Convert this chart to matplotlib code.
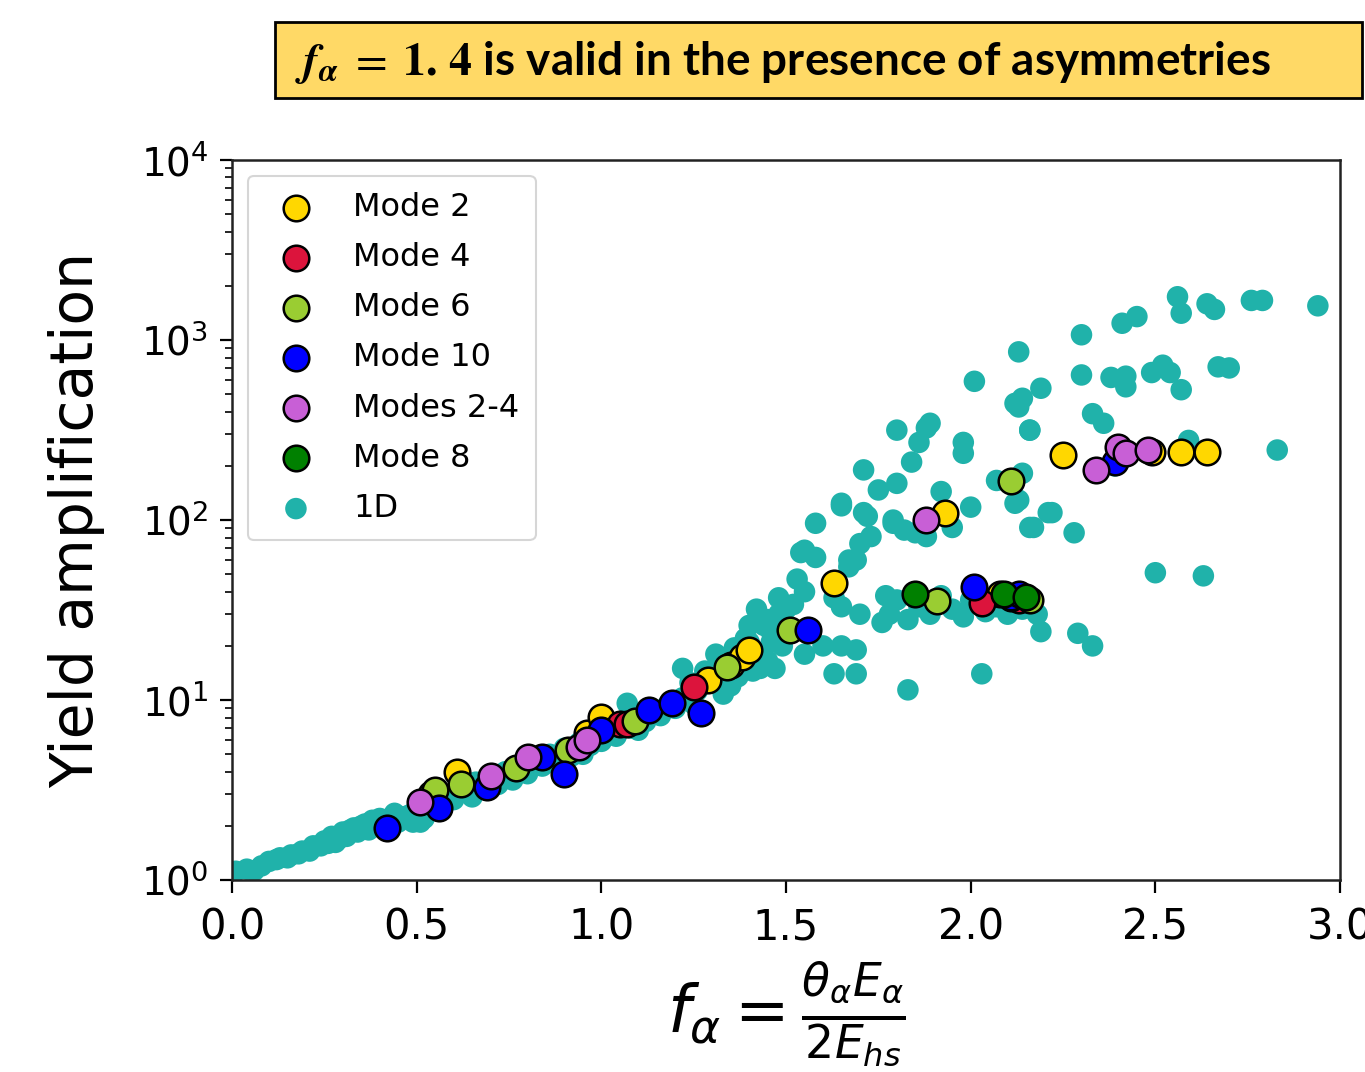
import numpy as np
import matplotlib
matplotlib.use("Agg")
import matplotlib.pyplot as plt
from matplotlib.patches import Rectangle

# ---- data ----
# 1D runs (teal cloud)
x_1d = [0.01, 0.04, 0.06, 0.10, 0.13, 0.16, 0.19, 0.22, 0.25, 0.27, 0.28, 0.30, 0.33, 0.34,
        0.36, 0.38, 0.44, 0.45, 0.48, 0.50, 0.51, 0.52, 0.53, 0.58, 0.62, 0.65, 0.66, 0.70,
        0.74, 0.78, 0.80, 0.82, 0.86, 0.90, 0.94, 0.95, 0.98, 1.02, 1.06, 1.07, 1.10, 1.10,
        1.14, 1.18, 1.22, 1.22, 1.25, 1.26, 1.30, 1.31, 1.34, 1.35, 1.38, 1.40, 1.42, 1.44,
        1.46, 1.48, 1.50, 1.52, 1.55,
        0.08, 0.12, 0.15, 0.18, 0.21, 0.24, 0.26, 0.29, 0.31, 0.32, 0.35, 0.37, 0.40, 0.42,
        0.46, 0.49, 0.56, 0.60, 0.68, 0.72, 0.76, 0.84, 0.88, 0.92, 0.97, 1.00, 1.04, 1.08,
        1.12, 1.16, 1.20, 1.24, 1.28, 1.32, 1.36, 1.39, 1.33, 1.37, 1.41, 1.45, 1.45, 1.50,
        1.46,
        1.40, 1.42, 1.48, 1.53, 1.55, 1.58, 1.58, 1.65, 1.71, 1.73, 1.69, 1.67, 1.79, 1.85,
        1.65, 1.70, 1.63, 1.49, 1.55, 1.60, 1.65, 1.69, 1.63, 1.69, 1.83, 1.43, 1.47,
        1.76, 1.77, 1.78, 1.80, 1.83, 1.86, 1.89, 1.92, 1.95, 1.98, 2.00, 2.04, 2.07, 2.10,
        2.14, 2.18, 2.19, 2.03, 2.29, 2.33,
        1.80, 1.89, 1.86, 1.84, 1.98, 1.98, 1.71, 1.75, 1.80, 1.65, 1.72, 1.70, 1.67, 1.54,
        1.79, 1.82, 1.88, 1.95, 2.00, 2.16, 2.13, 2.07, 2.13, 2.16, 2.21, 2.01, 1.88, 1.92,
        2.56, 2.57, 2.64, 2.66, 2.76, 2.79, 2.94, 2.41, 2.45, 2.30, 2.13, 2.30, 2.38, 2.42,
        2.42, 2.49, 2.52, 2.54, 2.57, 2.67, 2.70, 2.19, 2.12, 2.14, 2.33, 2.36, 2.16, 2.83,
        2.59, 2.14, 2.12, 2.22, 2.17, 2.28, 2.50, 2.63, 2.39]
y_1d = [1.12, 1.15, 1.13, 1.27, 1.33, 1.38, 1.45, 1.55, 1.65, 1.75, 1.62, 1.85, 1.95, 1.85,
        2.05, 2.15, 2.35, 2.1, 2.3, 2.5, 2.1, 2.2, 2.7, 3.0, 3.3, 2.9, 3.5, 3.7,
        4.0, 4.3, 3.9, 4.6, 5.0, 5.4, 5.8, 5.0, 6.3, 6.8, 7.3, 9.6, 7.9, 6.8,
        8.6, 9.4, 10.3, 15.0, 9.5, 11.3, 12.5, 18.0, 14.0, 12.0, 16.0, 21.0, 18.5, 26.0,
        21.0, 30.0, 24.0, 34.0, 40.0,
        1.2, 1.3, 1.33, 1.4, 1.45, 1.55, 1.6, 1.7, 1.75, 1.9, 2.0, 1.9, 2.2, 2.05,
        2.25, 2.1, 2.6, 2.8, 3.2, 3.4, 3.6, 4.3, 4.6, 4.9, 5.6, 5.9, 6.3, 7.0,
        7.6, 8.2, 9.0, 12.5, 14.5, 16.5, 19.5, 22.0, 10.8, 13.5, 14.5, 16.5, 28.0, 32.0,
        24.0,
        26, 32, 37, 47, 68, 62, 96, 120, 110, 81, 60, 55, 100, 85,
        33, 30, 37, 20, 18, 20, 20, 19, 14, 14, 11.4, 15, 15,
        27, 38, 30, 36, 28, 33, 30, 38, 32, 29, 36, 31, 33, 30,
        32, 30, 24, 14, 23.5, 20,
        316, 345, 270, 210, 270, 235, 190, 147, 160, 124, 105, 74, 60, 66,
        96, 88, 81, 91, 118, 316, 425, 166, 129, 91, 110, 590, 325, 144,
        1740, 1410, 1590, 1480, 1660, 1660, 1550, 1240, 1350, 1070, 860, 640, 620, 630,
        550, 660, 725, 660, 530, 710, 700, 540, 445, 475, 390, 345, 316, 245,
        277, 182, 124, 110, 91, 85, 51, 49, 200]

x_m2 = [0.54, 0.61, 0.96, 1.00, 1.29, 1.35, 1.38, 1.40, 1.63, 1.93, 2.08, 2.25, 2.49, 2.57, 2.64]
y_m2 = [2.9, 4.0, 6.6, 8.1, 12.9, 15.6, 17.3, 18.9, 44.6, 110, 39, 230, 240, 240, 240]

x_m4 = [1.05, 1.07, 1.25, 2.03, 2.13]
y_m4 = [7.4, 7.4, 11.8, 34.6, 36]

x_m6 = [0.54, 0.55, 0.62, 0.77, 0.91, 1.09, 1.34, 1.51, 1.91, 2.11, 2.16, 2.11]
y_m6 = [3.0, 3.16, 3.4, 4.2, 5.3, 7.7, 15.3, 24.5, 35.5, 37, 36, 165]

x_m10 = [0.42, 0.56, 0.69, 0.84, 0.90, 1.00, 1.13, 1.19, 1.27, 1.56, 2.01, 2.11, 2.13, 2.39]
y_m10 = [1.95, 2.5, 3.3, 4.8, 3.9, 6.8, 8.8, 9.6, 8.5, 24.5, 42.5, 37.6, 39, 210]

x_m24 = [0.51, 0.70, 0.80, 0.94, 0.96, 1.88, 2.34, 2.40, 2.42, 2.48]
y_m24 = [2.7, 3.8, 4.8, 5.5, 6.0, 100, 190, 255, 235, 245]

x_m8 = [1.85, 2.09, 2.15]
y_m8 = [39, 39, 37.5]

series = [
    ("Mode 2", x_m2, y_m2, "#FFD700"),
    ("Mode 4", x_m4, y_m4, "#DC143C"),
    ("Mode 6", x_m6, y_m6, "#9ACD32"),
    ("Mode 10", x_m10, y_m10, "#0000FF"),
    ("Modes 2-4", x_m24, y_m24, "#C85FD6"),
    ("Mode 8", x_m8, y_m8, "#008000"),
]

fig = plt.figure(figsize=(13.65, 10.72), dpi=100)
ax = fig.add_axes([0.170, 0.179, 0.8117, 0.6717])

h1d = ax.scatter(x_1d, y_1d, s=240, c="#20B2AA", edgecolors="none", label="1D", zorder=2)
handles = []
for name, xs, ys, col in series:
    h = ax.scatter(xs, ys, s=340, c=col, edgecolors="black", linewidths=1.8, label=name, zorder=3)
    handles.append(h)
handles.append(h1d)

ax.set_yscale("log")
ax.set_xlim(0, 3.0)
ax.set_ylim(1, 1e4)
ax.set_xticks([0.0, 0.5, 1.0, 1.5, 2.0, 2.5, 3.0])
ax.set_xticklabels(["0.0", "0.5", "1.0", "1.5", "2.0", "2.5", "3.0"])
ax.tick_params(which="major", length=9, width=1.6)
ax.tick_params(axis="x", labelsize=30, pad=10)
ax.tick_params(axis="y", labelsize=28, pad=8)
ax.tick_params(which="minor", length=5, width=1.2)
for sp in ax.spines.values():
    sp.set_linewidth(1.8)
    sp.set_color("#222222")

ax.set_ylabel("Yield amplification", fontsize=42, labelpad=26)
ax.set_xlabel(r"$f_\alpha = \frac{\theta_\alpha E_\alpha}{2E_{hs}}$", fontsize=47, labelpad=8)

leg = ax.legend(handles=handles, loc="upper left", fontsize=23, frameon=True,
                borderpad=0.5, labelspacing=0.6, handletextpad=0.8,
                bbox_to_anchor=(0.0, 1.0))
leg.get_frame().set_edgecolor("#cccccc")
leg.get_frame().set_linewidth(1.5)

# yellow banner on top
fig.patches.append(Rectangle((275 / 1365, 1 - 98 / 1072), (1362 - 275) / 1365, 76 / 1072,
                             transform=fig.transFigure, facecolor="#FFD966",
                             edgecolor="black", linewidth=2))
fig.text(295 / 1365, 1 - 62 / 1072,
         r"$\boldsymbol{f}_{\boldsymbol{\alpha}}\;=\;\mathbf{1.\,4}$ is valid in the presence of asymmetries",
         fontsize=33, fontweight="bold", family=["Lato", "DejaVu Sans"],
         math_fontfamily="stix", ha="left", va="center")

fig.savefig("out.png", dpi=100)
